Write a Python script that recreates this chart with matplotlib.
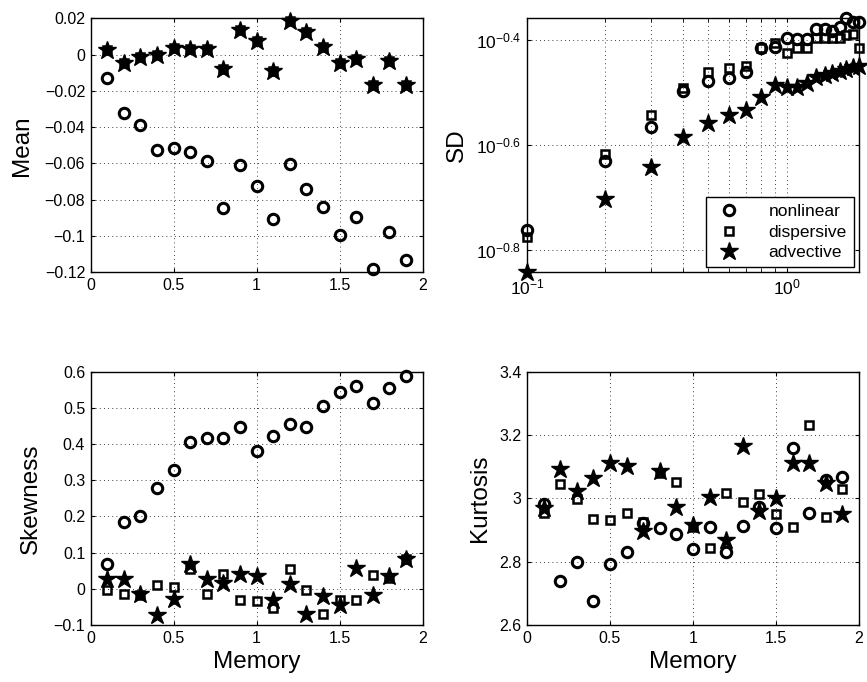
import numpy as np
import matplotlib
matplotlib.use('Agg')
import matplotlib.pyplot as plt
from matplotlib.ticker import FuncFormatter, FixedLocator, NullLocator, NullFormatter

plt.rcParams['font.family'] = ['Liberation Sans', 'DejaVu Sans']
plt.rcParams['mathtext.default'] = 'regular'
plt.rcParams['axes.unicode_minus'] = True

memory = [0.1, 0.2, 0.3, 0.4, 0.5, 0.6, 0.7, 0.8, 0.9, 1.0,
          1.1, 1.2, 1.3, 1.4, 1.5, 1.6, 1.7, 1.8, 1.9]

# mean
mean_nonlin = [-0.0127, -0.0323, -0.039, -0.0524, -0.0514, -0.0536, -0.0588, -0.0847, -0.0608, -0.0726,
               -0.0906, -0.0603, -0.0739, -0.0838, -0.0992, -0.0895, -0.1179, -0.0979, -0.1133]
mean_disp = [0.0025, -0.0044, -0.0015, -0.0002, 0.0038, 0.0033, 0.0029, -0.0079, 0.0136, 0.0077,
             -0.0088, 0.0187, 0.0127, 0.0044, -0.0048, -0.0026, -0.0169, -0.0033, -0.0169]
mean_adv = [0.0025, -0.0044, -0.0015, -0.0002, 0.0038, 0.0033, 0.0029, -0.0079, 0.0136, 0.0077,
            -0.0088, 0.0187, 0.0127, 0.0044, -0.0048, -0.0026, -0.0169, -0.0033, -0.0169]

# standard deviation
sd_nonlin = [0.1730, 0.2342, 0.2716, 0.3180, 0.3319, 0.3373, 0.3467, 0.3849, 0.3866, 0.4011,
             0.3993, 0.3993, 0.4171, 0.4178, 0.4147, 0.4208, 0.4378, 0.4302, 0.4315]
sd_disp = [0.1680, 0.2416, 0.2871, 0.3229, 0.3459, 0.3524, 0.3556, 0.3849, 0.3935, 0.3755,
           0.3838, 0.3849, 0.4011, 0.4011, 0.4022, 0.4011, 0.4069, 0.4081, 0.3849]
sd_adv = [0.1441, 0.1982, 0.2278, 0.2598, 0.2763, 0.2865, 0.2934, 0.3096, 0.3268, 0.3234,
          0.3234, 0.3292, 0.3390, 0.3414, 0.3440, 0.3480, 0.3508, 0.3540, 0.3556]

# skewness
skew_nonlin = [0.0696, 0.185, 0.2, 0.278, 0.328, 0.4044, 0.417, 0.4155, 0.448, 0.3814,
               0.4229, 0.456, 0.446, 0.506, 0.5428, 0.561, 0.5124, 0.554, 0.588]
skew_disp = [-0.0024, -0.0135, -0.018, 0.0096, 0.005, 0.0557, -0.0153, 0.04, -0.03, -0.0347,
             -0.0522, 0.0548, -0.0024, -0.0707, -0.032, -0.03, 0.0373, 0.03, 0.081]
skew_adv = [0.028, 0.028, -0.0153, -0.0734, -0.0273, 0.0696, 0.028, 0.017, 0.04, 0.0345,
            -0.032, 0.0142, -0.0707, -0.02, -0.0458, 0.0585, -0.018, 0.0345, 0.0834]

# kurtosis
kurt_nonlin = [2.981, 2.74, 2.798, 2.676, 2.792, 2.8295, 2.923, 2.907, 2.888, 2.839,
               2.908, 2.832, 2.913, 2.972, 2.907, 3.16, 2.953, 3.058, 3.066]
kurt_disp = [2.953, 3.044, 2.997, 2.935, 2.932, 2.953, 2.926, 3.081, 3.051, 2.908,
             2.842, 3.016, 2.989, 3.014, 2.951, 2.911, 3.232, 2.94, 3.028]
kurt_adv = [2.968, 3.093, 3.023, 3.065, 3.111, 3.103, 2.897, 3.087, 2.972, 2.915,
            3.003, 2.868, 3.166, 2.961, 3.0, 3.111, 3.111, 3.047, 2.949]

labels = ['nonlinear', 'dispersive', 'advective']


def fmt(v, pos):
    s = '%g' % round(v, 6)
    return s.replace('-', '\u2212')


def draw(ax, a, b, c):
    ax.plot(memory, a, 'o', ls='none', mfc='none', mec='k', ms=7.5, mew=2.2, clip_on=False, zorder=3, label=labels[0])
    ax.plot(memory, b, 's', ls='none', mfc='none', mec='k', ms=5.5, mew=1.8, clip_on=False, zorder=3, label=labels[1])
    ax.plot(memory, c, '*', ls='none', mfc='k', mec='k', ms=13.5, mew=1, clip_on=False, zorder=4, label=labels[2])


def style(ax):
    ax.tick_params(direction='in', length=3, top=True, right=True, labelsize=11.5, which='both', pad=4)
    ax.grid(True, which='major', color='k', linestyle=(0, (1, 4)), linewidth=0.6)
    for s in ax.spines.values():
        s.set_linewidth(1.0)


fig = plt.figure(figsize=(8.67, 6.82), dpi=100)
w = 0.3829
ax1 = fig.add_axes([0.1046, 0.6007, w, 0.3724])
ax2 = fig.add_axes([0.6078, 0.6007, w, 0.3724])
ax3 = fig.add_axes([0.1046, 0.0836, w, 0.3714])
ax4 = fig.add_axes([0.6078, 0.0836, w, 0.3714])

# Mean
draw(ax1, mean_nonlin, mean_disp, mean_adv)
ax1.set_xlim(0, 2)
ax1.set_ylim(-0.12, 0.02)
ax1.set_yticks(np.arange(-0.12, 0.021, 0.02))
ax1.set_xticks([0, 0.5, 1, 1.5, 2])
ax1.xaxis.set_major_formatter(FuncFormatter(fmt))
ax1.yaxis.set_major_formatter(FuncFormatter(fmt))
ax1.set_ylabel('Mean', fontsize=17.5, labelpad=8)
style(ax1)

# SD
draw(ax2, sd_nonlin, sd_disp, sd_adv)
ax2.set_xscale('log')
ax2.set_yscale('log')
ax2.set_xlim(0.1, 1.9)
allsd = sd_nonlin + sd_disp + sd_adv
ax2.set_ylim(min(allsd) - 0.0004, max(allsd))
ax2.xaxis.set_major_locator(FixedLocator([0.1, 1]))
ax2.xaxis.set_major_formatter(FuncFormatter(lambda v, p: '$10^{%d}$' % round(np.log10(v))))
ax2.xaxis.set_minor_locator(FixedLocator([0.2, 0.3, 0.4, 0.5, 0.6, 0.7, 0.8, 0.9]))
ax2.xaxis.set_minor_formatter(NullFormatter())
yt = [10 ** -0.8, 10 ** -0.6, 10 ** -0.4]
ax2.yaxis.set_major_locator(FixedLocator(yt))
ax2.yaxis.set_major_formatter(FuncFormatter(lambda v, p: '$10^{%.1f}$' % np.log10(v)))
ax2.yaxis.set_minor_locator(NullLocator())
ax2.set_ylabel('SD', fontsize=17.5, labelpad=6)
style(ax2)
ax2.tick_params(axis='both', labelsize=12.5)
ax2.grid(True, which='minor', axis='x', color='k', linestyle=(0, (1, 4)), linewidth=0.6)
leg = ax2.legend(loc='lower right', fontsize=12.5, frameon=True, fancybox=False,
                 edgecolor='k', framealpha=1, borderaxespad=0.3, handletextpad=1.4,
                 borderpad=0.4, labelspacing=0.3, handlelength=1.8)
leg.get_frame().set_linewidth(1.0)

# Skewness
draw(ax3, skew_nonlin, skew_disp, skew_adv)
ax3.set_xlim(0, 2)
ax3.set_ylim(-0.1, 0.6)
ax3.set_yticks(np.arange(-0.1, 0.61, 0.1))
ax3.set_xticks([0, 0.5, 1, 1.5, 2])
ax3.xaxis.set_major_formatter(FuncFormatter(fmt))
ax3.yaxis.set_major_formatter(FuncFormatter(fmt))
ax3.set_ylabel('Skewness', fontsize=17.5, labelpad=8)
ax3.set_xlabel('Memory', fontsize=17.5, labelpad=4)
style(ax3)

# Kurtosis
draw(ax4, kurt_nonlin, kurt_disp, kurt_adv)
ax4.set_xlim(0, 2)
ax4.set_ylim(2.6, 3.4)
ax4.set_yticks(np.arange(2.6, 3.41, 0.2))
ax4.set_xticks([0, 0.5, 1, 1.5, 2])
ax4.xaxis.set_major_formatter(FuncFormatter(fmt))
ax4.yaxis.set_major_formatter(FuncFormatter(fmt))
ax4.set_ylabel('Kurtosis', fontsize=17.5, labelpad=6)
ax4.set_xlabel('Memory', fontsize=17.5, labelpad=4)
style(ax4)

fig.savefig('out.png', dpi=100)
